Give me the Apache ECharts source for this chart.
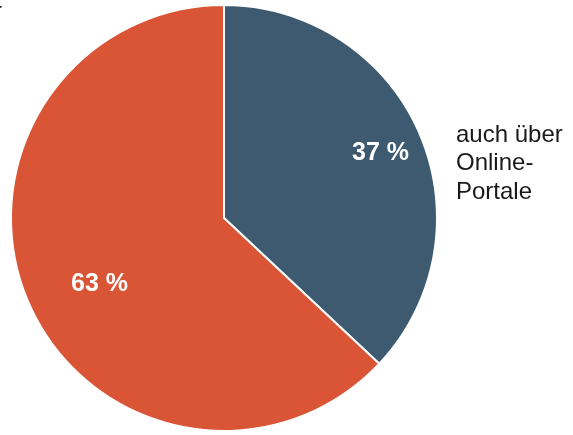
<!DOCTYPE html>
<html>
<head>
<meta charset="utf-8">
<script src="https://cdn.jsdelivr.net/npm/echarts@6/dist/echarts.min.js"></script>
<style>
html,body{margin:0;padding:0;background:#fff;}
#chart{width:573px;height:435px;}
</style>
</head>
<body>
<div id="chart"></div>
<script>
var categories = ['auch über\nOnline-\nPortale', 'andere'];
var values = [37, 63];
var colors = ['#3d5a70', '#d95535'];
var labelShift = [[56, -21], [-24, 23]];

var chart = echarts.init(document.getElementById('chart'), null, {renderer: 'canvas'});
chart.setOption({
  backgroundColor: '#ffffff',
  animation: false,
  series: [{
    type: 'pie',
    center: [224, 218],
    radius: [0, 213],
    startAngle: 90,
    clockwise: true,
    silent: true,
    itemStyle: {borderColor: '#ffffff', borderWidth: 2},
    label: {
      show: true,
      position: 'inside',
      formatter: function (p) { return p.value + ' %'; },
      color: '#ffffff',
      fontFamily: 'Liberation Sans, Arial, sans-serif',
      fontWeight: 'bold',
      fontSize: 25
    },
    labelLine: {show: false},
    labelLayout: function (p) {
      var s = labelShift[p.dataIndex];
      return {dx: s[0], dy: s[1]};
    },
    data: values.map(function (v, i) {
      return {name: categories[i], value: v, itemStyle: {color: colors[i]}};
    })
  }],
  graphic: [{
    type: 'text',
    left: 456,
    top: 121,
    style: {
      text: categories[0],
      fill: '#1a1a1a',
      font: '24px "Liberation Sans", Arial, sans-serif',
      lineHeight: 28.5
    }
  }, {
    type: 'text',
    left: -6,
    top: 0,
    style: {
      text: 'r',
      fill: '#1a1a1a',
      font: '24px "Liberation Sans", Arial, sans-serif'
    }
  }]
});
</script>
</body>
</html>
